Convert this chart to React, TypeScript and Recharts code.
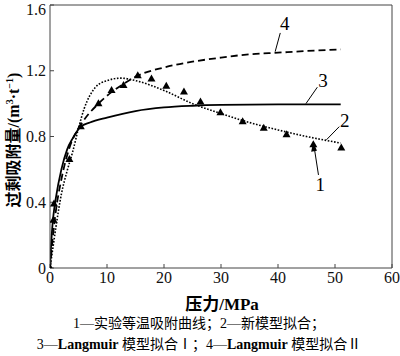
import {
  ComposedChart,
  Line,
  Scatter,
  XAxis,
  YAxis,
  ReferenceLine,
  ReferenceDot,
} from "recharts";

// 1 — experimental isotherm (triangles)
const expP = [0, 0.6, 0.7, 3.4, 5.4, 8.5, 10.8, 12.9, 15.4, 17.8, 20.4, 23.5, 26.4, 29.9, 33.8, 37.5, 41.5, 46.2, 51.1];
const expV = [0, 0.29, 0.39, 0.66, 0.86, 1.0, 1.08, 1.11, 1.17, 1.15, 1.105, 1.07, 1.01, 0.945, 0.89, 0.85, 0.81, 0.75, 0.73];

// 2 — new model fit (dotted)
const newP = [0, 0.5, 1, 2, 3, 4, 5, 6, 7, 8, 10, 12.5, 15, 20, 25, 30, 35, 40, 45, 51];
const newV = [0, 0.12, 0.24, 0.45, 0.59, 0.71, 0.85, 0.97, 1.05, 1.1, 1.14, 1.155, 1.14, 1.08, 1.0, 0.94, 0.885, 0.84, 0.8, 0.76];

// 3 — Langmuir fit I (solid)
const lang1P = [0, 0.3, 0.6, 1, 2, 3, 4, 5.4, 7, 10, 15, 20, 25, 30, 40, 51];
const lang1V = [0, 0.2, 0.32, 0.42, 0.6, 0.72, 0.79, 0.86, 0.885, 0.915, 0.955, 0.977, 0.987, 0.992, 0.995, 0.995];

// 4 — Langmuir fit II (dashed)
const lang2P = [0, 0.5, 1, 2, 3.4, 5.4, 8.5, 10.8, 12.9, 15.4, 20, 25, 30, 35, 40, 45, 51];
const lang2V = [0, 0.19, 0.34, 0.54, 0.73, 0.87, 1.0, 1.07, 1.12, 1.17, 1.22, 1.255, 1.28, 1.3, 1.31, 1.32, 1.33];

const xTicks = [0, 10, 20, 30, 40, 50, 60];
const yTicks = [0, 0.4, 0.8, 1.2, 1.6];

const toRows = (p: number[], v: number[]) => p.map((x, i) => ({ x, y: v[i] }));

const expData = toRows(expP, expV);
const newData = toRows(newP, newV);
const lang1Data = toRows(lang1P, lang1V);
const lang2Data = toRows(lang2P, lang2V);

// callout numbers and their leader lines (data units)
const callouts = [
  { label: "4", tx: 41.2, ty: 1.49, from: { x: 39.5, y: 1.316 }, to: { x: 40.4, y: 1.43 } },
  { label: "3", tx: 47.9, ty: 1.14, from: { x: 44.9, y: 1.0 }, to: { x: 46.9, y: 1.1 } },
  { label: "2", tx: 51.7, ty: 0.9, from: { x: 48.5, y: 0.78 }, to: { x: 50.75, y: 0.86 } },
  { label: "1", tx: 47.4, ty: 0.51, from: { x: 47.1, y: 0.566 }, to: { x: 46.2, y: 0.768 } },
];

const serif = "'Liberation Serif', 'Times New Roman', serif";
const cjk = "'Liberation Serif', 'Noto Sans CJK SC', serif";

const Triangle = (props: any) => {
  const { cx, cy } = props;
  if (cx == null || cy == null) return null;
  return <polygon points={`${cx},${cy - 4.5} ${cx - 4},${cy + 2.5} ${cx + 4},${cy + 2.5}`} fill="#000" />;
};

export default function App() {
  return (
    <div style={{ position: "absolute", left: 0, top: 0, width: 400, height: 356, background: "#fff" }}>
      <ComposedChart width={400} height={356} margin={{ top: 5, right: 8, left: 6, bottom: 58 }}>
        <XAxis
          type="number"
          dataKey="x"
          domain={[0, 60]}
          ticks={xTicks}
          allowDataOverflow
          tickSize={-4}
          tickMargin={8}
          height={30}
          stroke="#444"
          tick={{ fontFamily: serif, fontSize: 16, fill: "#111" }}
        />
        <YAxis
          type="number"
          dataKey="y"
          domain={[0, 1.6]}
          ticks={yTicks}
          allowDataOverflow
          width={44}
          tickSize={-4}
          tickMargin={8}
          stroke="#444"
          tickFormatter={(v: number) => (v === 0 ? "0" : v.toFixed(1))}
          tick={{ fontFamily: serif, fontSize: 16, fill: "#111" }}
        />
        <ReferenceLine y={1.6} stroke="#444" />
        <ReferenceLine x={60} stroke="#444" />

        <Line
          data={lang1Data}
          dataKey="y"
          type="monotone"
          stroke="#000"
          strokeWidth={1.8}
          dot={false}
          isAnimationActive={false}
        />
        <Line
          data={lang2Data}
          dataKey="y"
          type="monotone"
          stroke="#000"
          strokeWidth={1.8}
          strokeDasharray="7 4"
          dot={false}
          isAnimationActive={false}
        />
        <Line
          data={newData}
          dataKey="y"
          type="monotone"
          stroke="#000"
          strokeWidth={1.6}
          strokeDasharray="1.6 1.6"
          dot={false}
          isAnimationActive={false}
        />
        <Scatter data={expData} dataKey="y" shape={Triangle} isAnimationActive={false} />

        {callouts.map((c) => (
          <ReferenceLine
            key={"l" + c.label}
            segment={[c.from, c.to]}
            stroke="#000"
            strokeWidth={1}
            ifOverflow="visible"
          />
        ))}
        {callouts.map((c) => (
          <ReferenceDot
            key={"t" + c.label}
            x={c.tx}
            y={c.ty}
            ifOverflow="visible"
            shape={(p: any) => (
              <text
                x={p.cx}
                y={p.cy}
                textAnchor="middle"
                dominantBaseline="central"
                fontFamily={serif}
                fontSize={19}
                fill="#000"
              >
                {c.label}
              </text>
            )}
          />
        ))}
        <ReferenceDot
          x={callouts[3].to.x}
          y={callouts[3].to.y}
          ifOverflow="visible"
          shape={(p: any) => (
            <polygon
              points={`${p.cx},${p.cy} ${p.cx - 2.2},${p.cy + 10} ${p.cx + 3.6},${p.cy + 9}`}
              fill="#000"
            />
          )}
        />
      </ComposedChart>

      <div
        style={{
          position: "absolute",
          left: 12,
          top: 140,
          transform: "translate(-50%, -50%) rotate(-90deg)",
          whiteSpace: "nowrap",
          fontFamily: cjk,
          fontWeight: "bold",
          fontSize: 16,
          color: "#000",
        }}
      >
        过剩吸附量/(m<sup style={{ fontSize: 10 }}>3</sup>·t<sup style={{ fontSize: 10 }}>−1</sup>)
      </div>
      <div
        style={{
          position: "absolute",
          left: 222,
          top: 302,
          transform: "translate(-50%, -50%)",
          whiteSpace: "nowrap",
          fontFamily: cjk,
          fontWeight: "bold",
          fontSize: 17,
          color: "#000",
        }}
      >
        压力/MPa
      </div>
      <div
        style={{
          position: "absolute",
          left: 199,
          top: 322,
          transform: "translate(-50%, -50%)",
          whiteSpace: "nowrap",
          fontFamily: cjk,
          fontSize: 14,
          color: "#000",
        }}
      >
        1—实验等温吸附曲线；2—新模型拟合；
      </div>
      <div
        style={{
          position: "absolute",
          left: 199,
          top: 343,
          transform: "translate(-50%, -50%)",
          whiteSpace: "nowrap",
          fontFamily: cjk,
          fontSize: 14,
          color: "#000",
        }}
      >
        3—<b>Langmuir</b> 模型拟合Ⅰ；4—<b>Langmuir</b> 模型拟合Ⅱ
      </div>
    </div>
  );
}
